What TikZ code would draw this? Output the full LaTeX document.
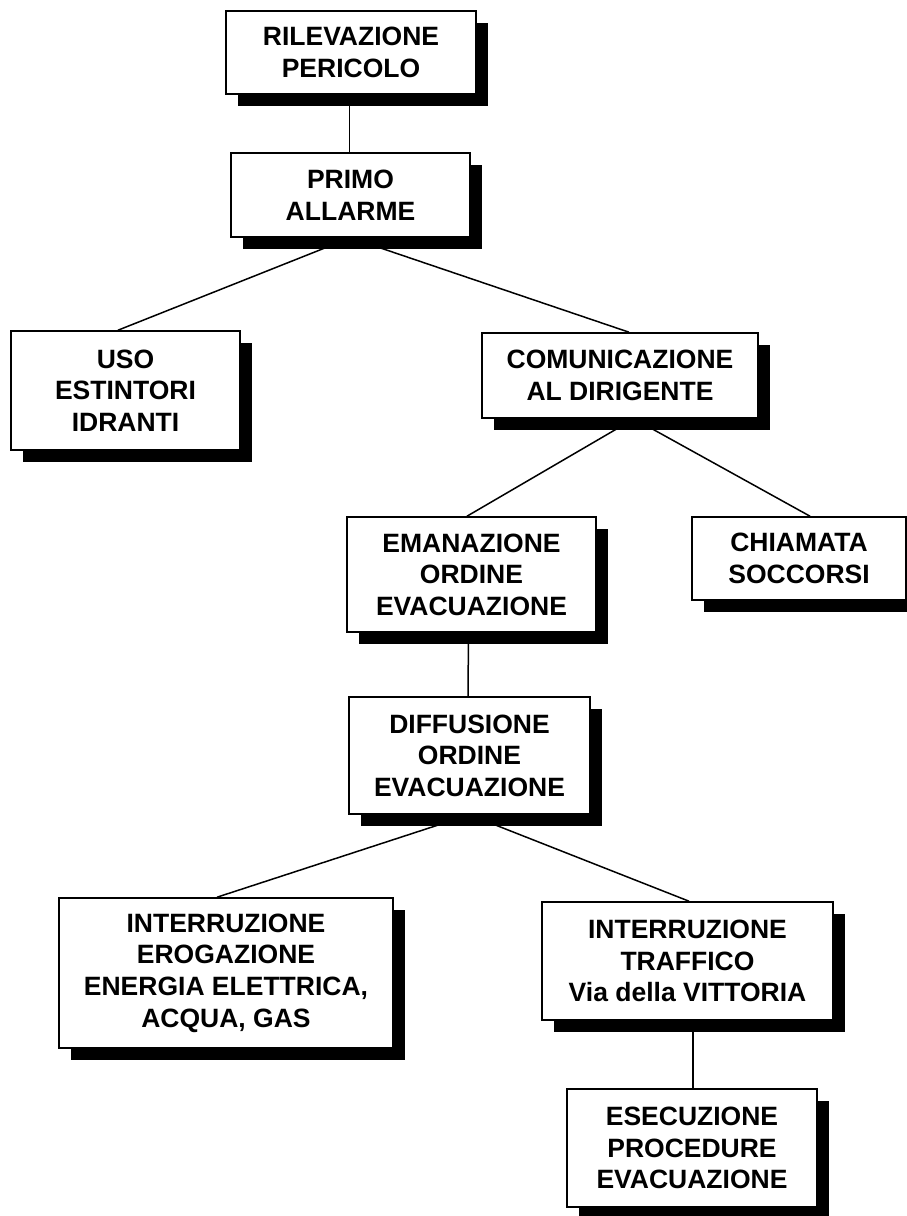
\documentclass[tikz,border=0pt]{standalone}
\usepackage{fontspec}
\newfontfamily\boxfont{Liberation Sans}
\usetikzlibrary{shadows,backgrounds}
\tikzset{
  box/.style={draw=black, line width=1.6pt, fill=white, inner sep=0pt,
    align=center, font=\boxfont\bfseries\fontsize{26.5}{31.6}\selectfont,
    drop shadow={shadow xshift=11.5pt, shadow yshift=-11.5pt, fill=black, opacity=1}},
  link/.style={draw=black, line width=1.5pt}
}
\begin{document}
\begin{tikzpicture}[x=1pt,y=-1pt]
\useasboundingbox (0,0) rectangle (907,1216);
\clip (0,0) rectangle (907,1216);
\node[box, minimum width=250pt, minimum height=83pt] (b1) at (351,52.5) {RILEVAZIONE\\PERICOLO};
\node[box, minimum width=239pt, minimum height=84pt] (b2) at (350.5,195) {PRIMO\\ALLARME};
\node[box, minimum width=229pt, minimum height=119pt] (b3) at (125.5,390.5) {USO\\ESTINTORI\\IDRANTI};
\node[box, minimum width=276pt, minimum height=85pt] (b4) at (620,375.5) {COMUNICAZIONE\\AL DIRIGENTE};
\node[box, minimum width=249pt, minimum height=115pt] (b5) at (471.5,574.5) {EMANAZIONE\\ORDINE\\EVACUAZIONE};
\node[box, minimum width=214pt, minimum height=83pt] (b6) at (799,558.5) {CHIAMATA\\SOCCORSI};
\node[box, minimum width=241pt, minimum height=117pt] (b7) at (469.5,755.5) {DIFFUSIONE\\ORDINE\\EVACUAZIONE};
\node[box, minimum width=334pt, minimum height=150pt] (b8) at (226,973) {INTERRUZIONE\\EROGAZIONE\\ENERGIA ELETTRICA,\\ACQUA, GAS};
\node[box, minimum width=291pt, minimum height=118pt] (b9) at (687.5,961) {INTERRUZIONE\\TRAFFICO\\Via della VITTORIA};
\node[box, minimum width=250pt, minimum height=118pt] (b10) at (692,1148) {ESECUZIONE\\PROCEDURE\\EVACUAZIONE};
\begin{scope}[on background layer]
\draw[link] ([xshift=-1.5pt]b1.south) -- ([xshift=-1pt]b2.north);
\draw[link] (b2.south) -- ([xshift=-7.5pt]b3.north);
\draw[link] (b2.south) -- ([xshift=9pt]b4.north);
\draw[link] ([xshift=14pt]b4.south) -- ([xshift=-4.5pt]b5.north);
\draw[link] ([xshift=14pt]b4.south) -- ([xshift=11pt]b6.north);
\draw[link] ([xshift=-3pt]b5.south) -- ([xshift=-1.5pt]b7.north);
\draw[link] (b7.south) -- ([xshift=-9pt]b8.north);
\draw[link] (b7.south) -- ([xshift=1.5pt]b9.north);
\draw[link] ([xshift=5.5pt]b9.south) -- ([xshift=1pt]b10.north);
\end{scope}
\end{tikzpicture}
\end{document}
